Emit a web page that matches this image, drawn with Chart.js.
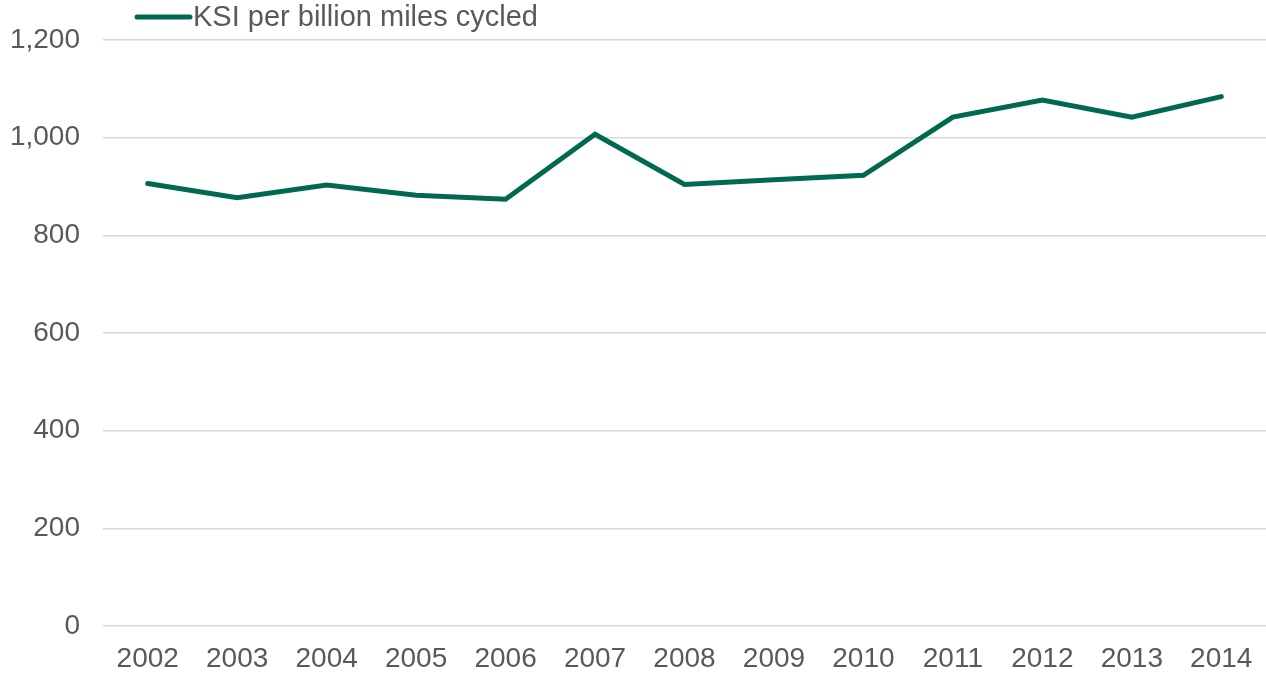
<!DOCTYPE html>
<html>
<head>
<meta charset="utf-8">
<script src="https://cdn.jsdelivr.net/npm/chart.js@4/dist/chart.umd.min.js"></script>
<style>
  html, body { margin: 0; padding: 0; background: #ffffff; overflow: hidden; }
  canvas { display: block; }
</style>
</head>
<body>
<canvas id="c" width="1266" height="673" style="width:1266px;height:673px"></canvas>
<script>
const years = ['2002','2003','2004','2005','2006','2007','2008','2009','2010','2011','2012','2013','2014'];
const ksiPerBillionMiles = [906, 877, 903, 882, 874, 1007, 904, 914, 923, 1042, 1077, 1042, 1084];
const seriesLabel = 'KSI per billion miles cycled';
const yTicks = [0, 200, 400, 600, 800, 1000, 1200];

const lineColor = '#00694f';
const textColor = '#595959';
const fontFamily = '"Liberation Sans", Arial, sans-serif';
const fontSize = 28;

// Legend drawn in the top-left, close to the reference arrangement
const topLegend = {
  id: 'topLegend',
  afterDraw(chart) {
    const ctx = chart.ctx;
    const ds = chart.data.datasets[0];
    const y = 17;
    ctx.save();
    ctx.strokeStyle = ds.borderColor;
    ctx.lineWidth = 5;
    ctx.lineCap = 'round';
    ctx.beginPath();
    ctx.moveTo(137, y);
    ctx.lineTo(190, y);
    ctx.stroke();
    ctx.fillStyle = textColor;
    ctx.font = '29px ' + fontFamily;
    ctx.textBaseline = 'middle';
    ctx.textAlign = 'left';
    ctx.fillText(ds.label, 193, y + 1);
    ctx.restore();
  }
};

new Chart(document.getElementById('c'), {
  type: 'line',
  data: {
    labels: years,
    datasets: [{
      label: seriesLabel,
      data: ksiPerBillionMiles,
      borderColor: lineColor,
      backgroundColor: lineColor,
      borderWidth: 5,
      borderCapStyle: 'round',
      borderJoinStyle: 'miter',
      pointRadius: 0,
      tension: 0,
      fill: false,
      clip: false
    }]
  },
  options: {
    responsive: false,
    maintainAspectRatio: false,
    animation: false,
    devicePixelRatio: 1,
    layout: { autoPadding: false, padding: { left: 0, right: 0, top: 40, bottom: 0 } },
    plugins: {
      legend: { display: false },
      tooltip: { enabled: false }
    },
    scales: {
      x: {
        type: 'category',
        offset: true,
        grid: { display: false, drawTicks: false },
        border: { display: false },
        afterFit(scale) {
          scale.height = 47;
          scale.paddingLeft = 0;
          scale.paddingRight = 0;
        },
        ticks: {
          color: textColor,
          font: { family: fontFamily, size: fontSize, lineHeight: 1.0 },
          padding: 19,
          maxRotation: 0,
          autoSkip: false
        }
      },
      y: {
        min: 0,
        max: 1200,
        afterFit(scale) { scale.width = 103; },
        afterBuildTicks(scale) {
          scale.ticks = yTicks.map(v => ({ value: v }));
        },
        grid: { color: '#d9d9d9', lineWidth: 1.5, drawTicks: false },
        border: { display: false },
        ticks: {
          color: textColor,
          font: { family: fontFamily, size: fontSize },
          padding: 23,
          callback(v) { return Number(v).toLocaleString('en-US'); }
        }
      }
    }
  },
  plugins: [topLegend]
});
</script>
</body>
</html>
